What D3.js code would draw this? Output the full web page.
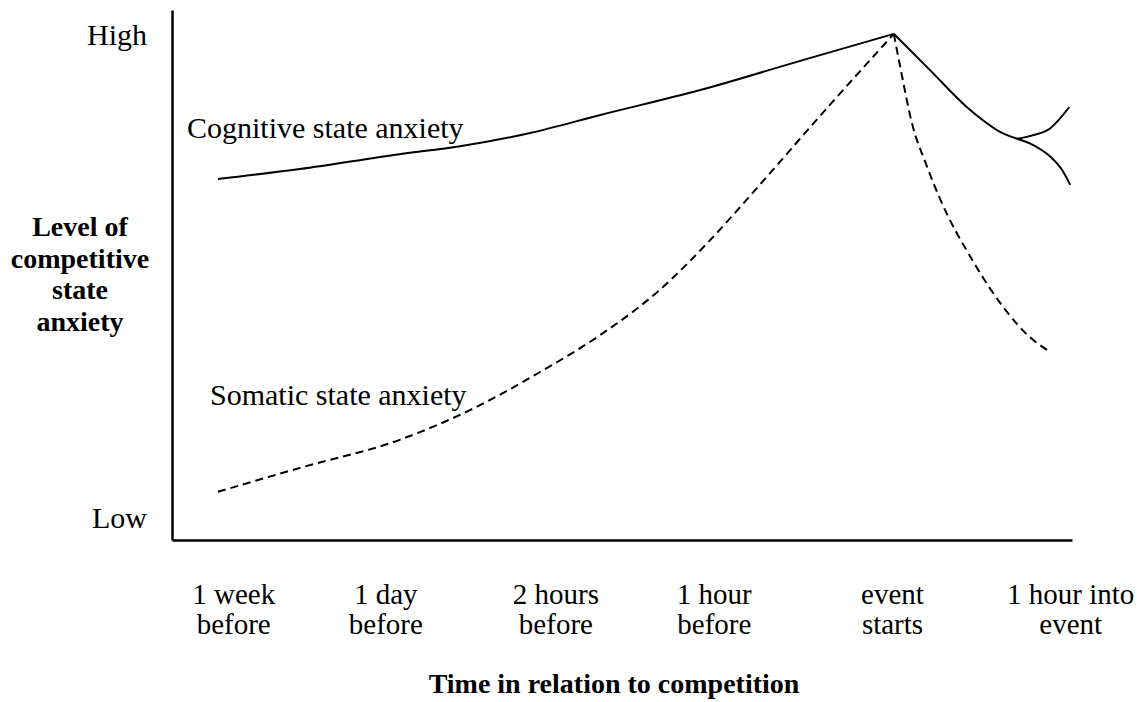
<!DOCTYPE html>
<html>
<head>
<meta charset="utf-8">
<script src="https://cdn.jsdelivr.net/npm/d3@7"></script>
<style>
  html, body { margin: 0; padding: 0; background: #fff; }
  svg { display: block; font-family: "Liberation Serif", "Times New Roman", serif; }
</style>
</head>
<body>
<svg id="chart"></svg>
<script>
// time axis: arbitrary units 0..100, level axis: 0 (low) .. 100 (high)
const timeLabels = [["1 week", "before"], ["1 day", "before"], ["2 hours", "before"],
                    ["1 hour", "before"], ["event", "starts"], ["1 hour into", "event"]];
const timeTicks = [6.8, 23.7, 42.6, 60.2, 80, 99.8];
const levelLabels = ["Low", "High"];
const levelTicks = [4.3, 95.3];

// cognitive state anxiety (solid line)
const cognitiveRise = [[5.1, 68.1], [14.2, 70.0], [25.3, 72.8], [32.0, 74.3], [39.8, 76.8],
                       [47.6, 80.2], [58.7, 84.9], [69.8, 90.4], [80.2, 95.5]];
const cognitiveFall = [[80.2, 95.5], [84.2, 88.7], [88.3, 81.7], [90.1, 79.2], [92.0, 77.0], [93.9, 75.7]];
const cognitiveUp   = [[93.9, 75.7], [95.7, 76.4], [97.6, 77.7], [98.7, 79.6], [99.7, 81.7]];
const cognitiveDown = [[93.9, 75.7], [95.7, 74.5], [97.6, 72.3], [98.9, 69.8], [99.8, 67.0]];

// somatic state anxiety (dashed line)
const somaticRise = [[5.1, 9.1], [14.2, 13.6], [25.3, 18.9], [33.1, 24.5], [40.9, 31.7], [47.6, 38.7],
                     [54.2, 47.2], [59.8, 56.6], [65.3, 67.0], [72.0, 80.0], [80.2, 95.5]];
const somaticFall = [[80.2, 95.5], [80.9, 89.4], [82.3, 78.1], [83.7, 71.3], [85.3, 64.5],
                     [89.0, 52.6], [92.8, 43.0], [95.3, 38.3], [97.3, 35.8]];

const width = 1143, height = 702;
const margin = {top: 10, right: 71, bottom: 162, left: 172};

const svg = d3.select("#chart")
  .attr("width", width)
  .attr("height", height)
  .attr("viewBox", [0, 0, width, height]);

const x = d3.scaleLinear().domain([0, 100]).range([margin.left, width - margin.right]);
const y = d3.scaleLinear().domain([0, 100]).range([height - margin.bottom, margin.top]);

// axes
const yAxis = g => g
  .attr("transform", `translate(${margin.left},0)`)
  .call(d3.axisLeft(y).tickValues(levelTicks).tickSize(0).tickSizeOuter(0).tickPadding(25)
    .tickFormat((d, i) => levelLabels[i]))
  .call(g => g.attr("font-family", null).attr("font-size", 30))
  .call(g => g.select(".domain").attr("stroke", "#000").attr("stroke-width", 2.5))
  .call(g => g.selectAll(".tick text").attr("dy", "0.33em").attr("fill", "#000"));

const xAxis = g => g
  .attr("transform", `translate(0,${height - margin.bottom})`)
  .call(d3.axisBottom(x).tickValues(timeTicks).tickSize(0).tickSizeOuter(0).tickFormat(""))
  .call(g => g.attr("font-family", null).attr("font-size", 29))
  .call(g => g.select(".domain").attr("stroke", "#000").attr("stroke-width", 2.5))
  .call(g => g.selectAll(".tick text")
    .attr("fill", "#000")
    .attr("y", 64)
    .attr("dy", null)
    .each(function(d, i) {
      const t = d3.select(this);
      timeLabels[i].forEach((line, j) => {
        t.append("tspan").attr("x", 0).attr("y", 64 + j * 30).text(line);
      });
    }));

svg.append("g").call(xAxis);
svg.append("g").call(yAxis);

// axis titles
const yTitle = svg.append("text")
  .attr("text-anchor", "middle")
  .attr("font-weight", "bold")
  .attr("font-size", 28)
  .attr("fill", "#000");
["Level of", "competitive", "state", "anxiety"].forEach((line, i) => {
  yTitle.append("tspan").attr("x", 80).attr("y", 236 + i * 31.7).text(line);
});

svg.append("text")
  .attr("x", 614)
  .attr("y", 693)
  .attr("text-anchor", "middle")
  .attr("font-weight", "bold")
  .attr("font-size", 28)
  .attr("fill", "#000")
  .text("Time in relation to competition");

// curves
const line = d3.line()
  .x(d => x(d[0]))
  .y(d => y(d[1]))
  .curve(d3.curveMonotoneX);

[cognitiveRise, cognitiveFall, cognitiveUp, cognitiveDown].forEach(seg => {
  svg.append("path")
    .datum(seg)
    .attr("fill", "none")
    .attr("stroke", "#000")
    .attr("stroke-width", 2)
    .attr("d", line);
});

[somaticRise, somaticFall].forEach(seg => {
  svg.append("path")
    .datum(seg)
    .attr("fill", "none")
    .attr("stroke", "#000")
    .attr("stroke-width", 2)
    .attr("stroke-dasharray", "8,5")
    .attr("d", line);
});

// series labels
svg.append("text")
  .attr("x", 187).attr("y", 138)
  .attr("font-size", 30).attr("fill", "#000")
  .text("Cognitive state anxiety");

svg.append("text")
  .attr("x", 210).attr("y", 405)
  .attr("font-size", 30).attr("fill", "#000")
  .text("Somatic state anxiety");
</script>
</body>
</html>
